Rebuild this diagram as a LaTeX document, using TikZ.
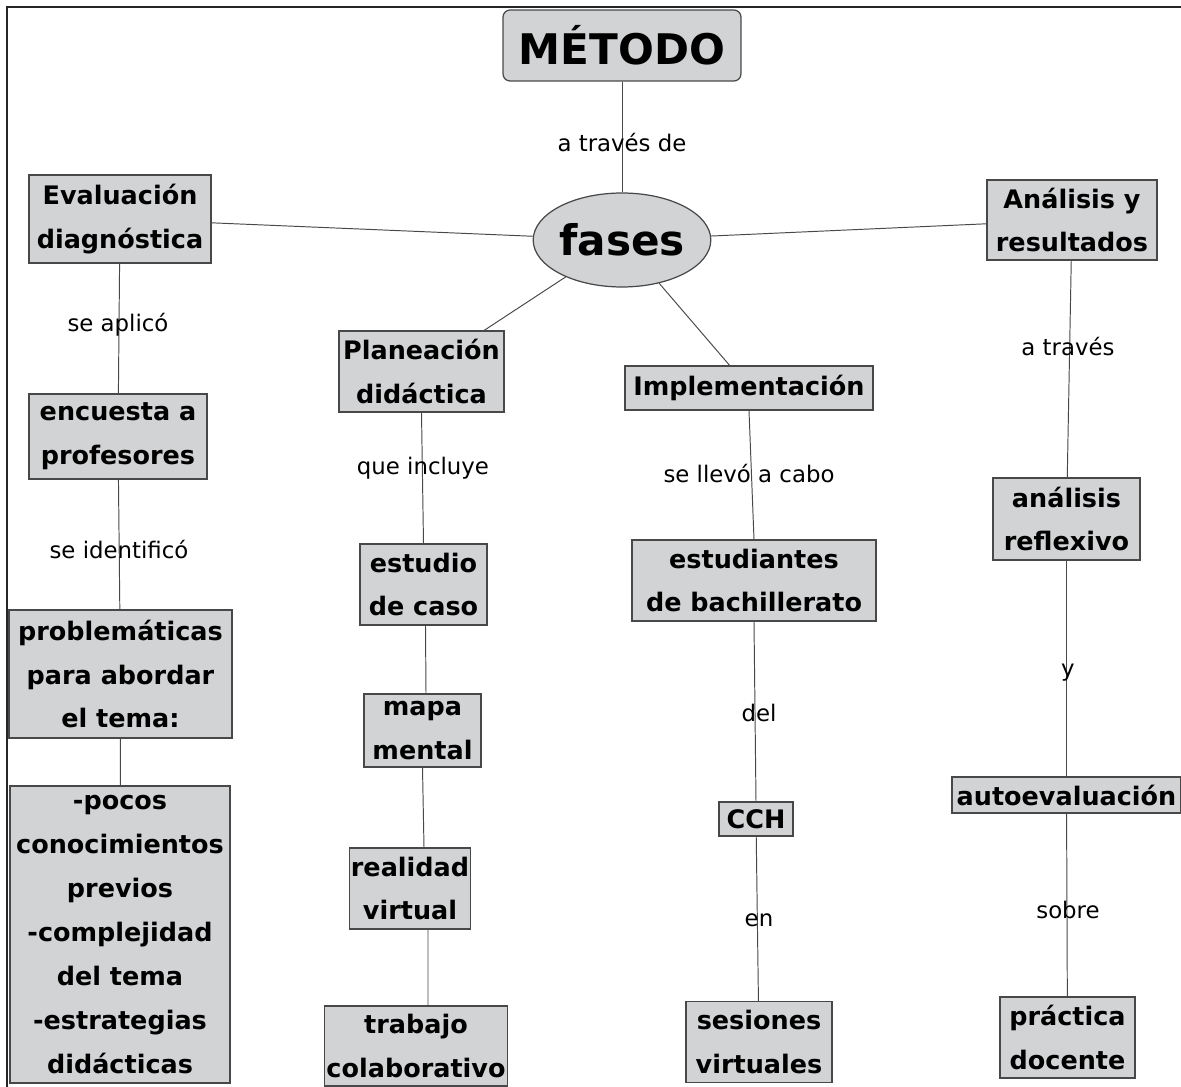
\documentclass[tikz,border=0pt]{standalone}
\usepackage{fontspec}
\setmainfont{DejaVu Sans}
\usetikzlibrary{shapes.geometric}
\definecolor{box}{RGB}{209,211,212}
\definecolor{edge}{RGB}{72,72,72}

\begin{document}
\begin{tikzpicture}[x=0.02cm,y=-0.02cm,
  concept/.style={draw=edge,fill=box,line width=.7pt,align=center,
    inner xsep=1pt,inner ysep=0pt,font=\bfseries\fontsize{14.5}{25}\selectfont},
  link/.style={draw=edge,line width=.55pt},
  phrase/.style={font=\fontsize{13}{15}\selectfont,inner sep=1pt}]
  \useasboundingbox (0,0) rectangle (1181,1087);
  % frame
  \draw[line width=1.5pt,black!85] (7,1087) -- (7,7) -- (1181,7);

  % top
  \node[concept,rounded corners=4pt,minimum width=4.76cm,minimum height=1.42cm,
    font=\bfseries\fontsize{24}{28}\selectfont] (metodo) at (622,45.5) {MÉTODO};
  \node[concept,ellipse,inner sep=0pt,minimum width=3.28cm,minimum height=1.88cm,
    font=\bfseries\fontsize{24}{28}\selectfont] (fases) at (622,240) {fases};

  % phases
  \node[concept,minimum width=3.64cm,minimum height=1.76cm] (evald) at (120,219)
    {Evaluación\\diagnóstica};
  \node[concept,minimum width=3.30cm,minimum height=1.62cm] (plan) at (421.5,371.5)
    {Planeación\\didáctica};
  \node[concept,minimum width=4.96cm,minimum height=0.88cm] (impl) at (749,388)
    {Implementación};
  \node[concept,minimum width=3.40cm,minimum height=1.60cm] (anres) at (1072,220)
    {Análisis y\\resultados};

  % column 1
  \node[concept,minimum width=3.56cm,minimum height=1.70cm] (encu) at (118,436.5)
    {encuesta a\\profesores};
  \node[concept,minimum width=4.46cm,minimum height=2.56cm] (probl) at (120.5,674)
    {problemáticas\\para abordar\\el tema:};
  \node[concept,minimum width=4.40cm,minimum height=5.94cm] (pocos) at (120,934.5)
    {-pocos\\conocimientos\\previos\\-complejidad\\del tema\\-estrategias\\didácticas};

  % column 2
  \node[concept,minimum width=2.54cm,minimum height=1.62cm] (estu) at (423.5,584.5)
    {estudio\\de caso};
  \node[concept,minimum width=2.34cm,minimum height=1.46cm] (mapa) at (422.5,730.5)
    {mapa\\mental};
  \node[concept,minimum width=2.32cm,minimum height=1.62cm] (real) at (410,888.5)
    {realidad\\virtual};
  \node[concept,minimum width=3.40cm,minimum height=1.60cm] (trab) at (416,1046)
    {trabajo\\colaborativo};

  % column 3
  \node[concept,minimum width=4.88cm,minimum height=1.62cm] (estb) at (754,580.5)
    {estudiantes\\de bachillerato};
  \node[concept,minimum width=1.48cm,minimum height=0.68cm] (cch) at (756,819) {CCH};
  \node[concept,minimum width=2.92cm,minimum height=1.62cm] (sesi) at (759,1042)
    {sesiones\\virtuales};

  % column 4
  \node[concept,minimum width=2.94cm,minimum height=1.64cm] (anref) at (1066.5,519)
    {análisis\\reflexivo};
  \node[concept,minimum width=4.58cm,minimum height=0.72cm] (autoe) at (1066.5,795)
    {autoevaluación};
  \node[concept,minimum width=2.70cm,minimum height=1.62cm] (prac) at (1067.5,1037.5)
    {práctica\\docente};

  % connectors
  \draw[link] (metodo) -- (fases);
  \draw[link] (fases) -- (evald);
  \draw[link] (fases) -- (plan);
  \draw[link] (fases) -- (impl);
  \draw[link] (fases) -- (anres);
  \draw[link] (evald) -- (encu);
  \draw[link] (encu) -- (probl);
  \draw[link] (probl) -- (pocos);
  \draw[link] (plan.south) -- (estu.north);
  \draw[link] ([xshift=.04cm]estu.south) -- ([xshift=.07cm]mapa.north);
  \draw[link] (mapa.south) -- ([xshift=.28cm]real.north);
  \draw[link] ([xshift=.36cm]real.south) -- ([xshift=.24cm]trab.north);
  \draw[link] (impl.south) -- (estb.north);
  \draw[link] (estb.south) -- (cch.north);
  \draw[link] (cch) -- (sesi);
  \draw[link] (anres) -- (anref);
  \draw[link] (anref) -- (autoe);
  \draw[link] (autoe) -- (prac);

  % linking phrases
  \node[phrase] (lmet) at (622,143) {a través de};
  \node[phrase] (lapl) at (118,325) {se aplicó};
  \node[phrase] (lide) at (119,550) {se identificó};
  \node[phrase] (linc) at (423,468) {que incluye};
  \node[phrase] (llev) at (749,474) {se llevó a cabo};
  \node[phrase] (ldel) at (759,713) {del};
  \node[phrase] (len) at (759,920) {en};
  \node[phrase] (ltra) at (1068,347) {a través};
  \node[phrase] (ly) at (1068,673) {y};
  \node[phrase] (lsob) at (1068,910) {sobre};
\end{tikzpicture}
\end{document}
